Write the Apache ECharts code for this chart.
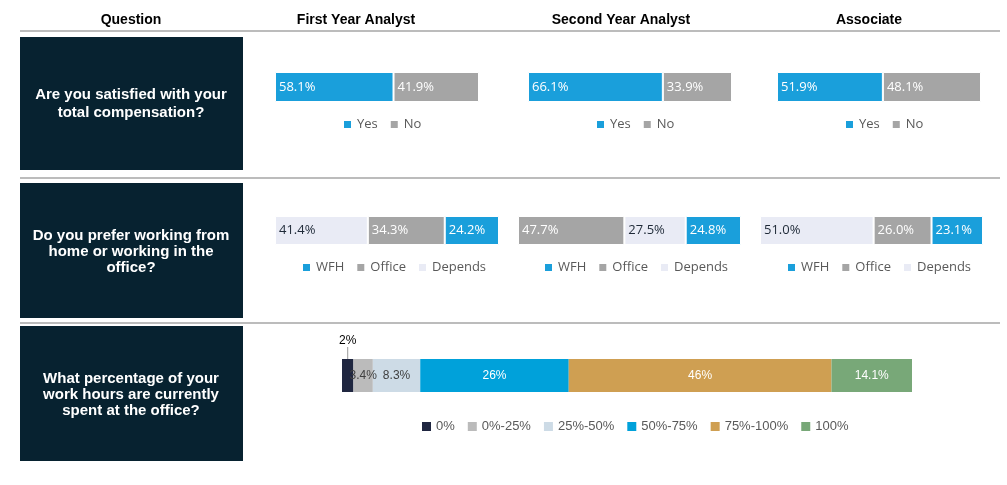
<!DOCTYPE html>
<html>
<head>
<meta charset="utf-8">
<script src="https://cdn.jsdelivr.net/npm/echarts@6/dist/echarts.min.js"></script>
<style>
  html, body { margin: 0; padding: 0; background: #fff; }
  #surveyChart { width: 1007px; height: 485px; }
</style>
</head>
<body>
<div id="surveyChart"></div>
<script>
  // column headers and questions
  const headers = ['Question', 'First Year Analyst', 'Second Year Analyst', 'Associate'];
  const questions = [
    'Are you satisfied with your\ntotal compensation?',
    'Do you prefer working from\nhome or working in the\noffice?',
    'What percentage of your\nwork hours are currently\nspent at the office?'
  ];

  // row 1: compensation
  const compYes = [58.1, 66.1, 51.9];
  const compNo = [41.9, 33.9, 48.1];

  // row 2: wfh vs office (segment order differs per column)
  const wfh = [24.2, 24.8, 23.1];
  const office = [34.3, 47.7, 26.0];
  const depends = [41.4, 27.5, 51.0];
  const workOrder = [
    ['Depends', 'Office', 'WFH'],
    ['Office', 'Depends', 'WFH'],
    ['Depends', 'Office', 'WFH']
  ];

  // row 3: share of hours at the office
  const officeBands = ['0%', '0%-25%', '25%-50%', '50%-75%', '75%-100%', '100%'];
  const officeShare = [2, 3.4, 8.3, 26, 46, 14.1];

  const colors = {
    Yes: '#1a9fdb', No: '#a5a5a5',
    WFH: '#1a9fdb', Office: '#a5a5a5', Depends: '#e9ebf5'
  };
  const bandColors = ['#1f2640', '#bbbbbb', '#cddbe6', '#00a1da', '#cf9f52', '#78a878'];
  const bandText = ['#000', '#404040', '#404040', '#fff', '#fff', '#fff'];

  const labelFont = '"Open Sans", "Noto Sans", sans-serif';
  const arial = '"Liberation Sans", Arial, sans-serif';

  const grids = [
    { left: 275, top: 72, width: 204, height: 30 },
    { left: 528, top: 72, width: 204, height: 30 },
    { left: 777, top: 72, width: 204, height: 30 },
    { left: 275, top: 216, width: 224, height: 29 },
    { left: 518, top: 216, width: 223, height: 29 },
    { left: 760, top: 216, width: 223, height: 29 },
    { left: 342, top: 359, width: 570, height: 33 }
  ];

  const xAxes = grids.map((g, i) => ({ type: 'value', gridIndex: i, min: 0, max: 'dataMax', show: false }));
  const yAxes = grids.map((g, i) => ({ type: 'category', gridIndex: i, data: ['q'], show: false }));

  function segment(name, value, idx, stack, textColor) {
    return {
      name: name,
      type: 'bar',
      stack: stack,
      xAxisIndex: idx,
      yAxisIndex: idx,
      barWidth: '100%',
      data: [value],
      itemStyle: { color: colors[name], borderColor: '#fff', borderWidth: 1 },
      label: {
        show: true,
        position: 'insideLeft',
        distance: 4,
        formatter: p => p.value.toFixed(1) + '%',
        color: textColor,
        fontFamily: labelFont,
        fontSize: 13
      },
      emphasis: { disabled: true }
    };
  }

  const series = [];
  // row 1
  for (let c = 0; c < 3; c++) {
    series.push(segment('Yes', compYes[c], c, 'comp' + c, '#fff'));
    series.push(segment('No', compNo[c], c, 'comp' + c, '#fff'));
  }
  // row 2
  const workVals = { WFH: wfh, Office: office, Depends: depends };
  for (let c = 0; c < 3; c++) {
    workOrder[c].forEach(name => {
      series.push(segment(name, workVals[name][c], 3 + c, 'work' + c, name === 'Depends' ? '#1f2a38' : '#fff'));
    });
  }
  // row 3
  officeBands.forEach((band, i) => {
    const s = {
      name: band,
      type: 'bar',
      stack: 'hours',
      xAxisIndex: 6,
      yAxisIndex: 6,
      barWidth: '100%',
      data: [officeShare[i]],
      itemStyle: { color: bandColors[i] },
      label: {
        show: true,
        position: 'inside',
        formatter: p => p.value + '%',
        color: bandText[i],
        fontFamily: arial,
        fontSize: 12
      },
      emphasis: { disabled: true }
    };
    if (i === 0) {
      //小块的标签放上面，加引导线
      s.label.position = 'top';
      s.label.distance = 2;
      s.labelLayout = { dy: -10 };
      s.labelLine = { show: true, lineStyle: { color: '#999', width: 1 } };
    }
    series.push(s);
  });

  function legendAt(names, left, top, font, gap) {
    return {
      data: names,
      left: left,
      top: top,
      padding: 0,
      itemWidth: 9,
      itemHeight: 9,
      itemGap: gap,
      icon: 'rect',
      selectedMode: false,
      textStyle: { color: '#595959', fontFamily: font, fontSize: 13 }
    };
  }

  const legends = [
    legendAt(['Yes', 'No'], 342, 118, labelFont, 11),
    legendAt(['Yes', 'No'], 595, 118, labelFont, 11),
    legendAt(['Yes', 'No'], 844, 118, labelFont, 11),
    legendAt(['WFH', 'Office', 'Depends'], 301, 261, labelFont, 11),
    legendAt(['WFH', 'Office', 'Depends'], 543, 261, labelFont, 11),
    legendAt(['WFH', 'Office', 'Depends'], 786, 261, labelFont, 11),
    legendAt(officeBands, 422, 420, arial, 13)
  ];

  // table frame: header, separators, dark question boxes
  const headerX = [131, 356, 621, 869];
  const boxes = [[37, 133], [183, 135], [326, 135]];
  const textY = [104, 252, 395];
  const lineGap = [18, 16, 16];
  const graphic = [];
  headers.forEach((h, i) => {
    graphic.push({
      type: 'text', x: headerX[i], y: 20,
      style: { text: h, fill: '#000', font: 'bold 14px ' + arial, align: 'center', verticalAlign: 'middle' }
    });
  });
  [31, 178, 323].forEach(y => {
    graphic.push({
      type: 'line', shape: { x1: 20, y1: y, x2: 1000, y2: y },
      style: { stroke: '#a6a6a6', lineWidth: 1.5 }
    });
  });
  boxes.forEach((b, i) => {
    graphic.push({
      type: 'rect', shape: { x: 20, y: b[0], width: 223, height: b[1] },
      style: { fill: '#072230' }
    });
    graphic.push({
      type: 'text', x: 131, y: textY[i],
      style: {
        text: questions[i], fill: '#fff', font: 'bold 15px ' + arial,
        align: 'center', verticalAlign: 'middle', lineHeight: lineGap[i]
      }
    });
  });

  const myChart = echarts.init(document.getElementById('surveyChart'));
  myChart.setOption({
    animation: false,
    grid: grids,
    xAxis: xAxes,
    yAxis: yAxes,
    legend: legends,
    graphic: graphic,
    series: series
  });
</script>
</body>
</html>
